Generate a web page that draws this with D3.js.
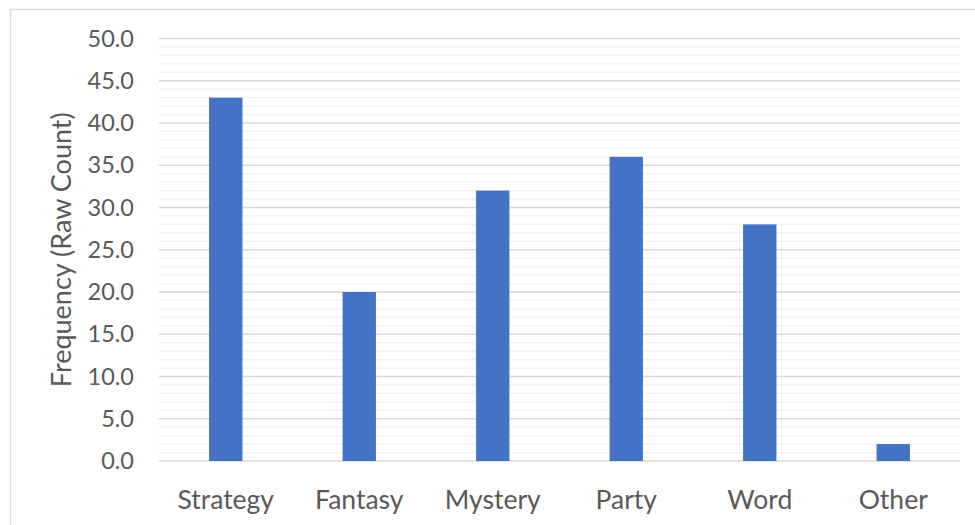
<!DOCTYPE html>
<html><head><meta charset="utf-8">
<script src="https://cdn.jsdelivr.net/npm/d3@7"></script>
<style>body{margin:0;background:#fff}svg{display:block}</style>
</head><body>
<svg id="c" width="975" height="525"></svg>
<script>
const categories = ["Strategy","Fantasy","Mystery","Party","Word","Other"];
const values = [43, 20, 32, 36, 28, 2];
const majorTicks = [0,5,10,15,20,25,30,35,40,45,50];
const yLabel = "Frequency (Raw Count)";

const svg = d3.select("#c");
const font = "Lato, 'Open Sans', sans-serif";
const m = {left:159, right:960, top:38.5, bottom:461};

// outer border
svg.append("path").attr("d","M10.5,525 V9.5 H975").attr("fill","none").attr("stroke","#d9d9d9").attr("stroke-width",1.5);

const x = d3.scaleBand().domain(categories).range([m.left,m.right]).paddingInner(0.75).paddingOuter(0.375);
const y = d3.scaleLinear().domain([0,50]).range([m.bottom,m.top]);

// minor grid
svg.append("g").selectAll("line").data(d3.range(0,51,1).filter(v=>v%5!==0)).join("line")
  .attr("x1",m.left).attr("x2",m.right).attr("y1",d=>y(d)).attr("y2",d=>y(d))
  .attr("stroke","#f2f2f2").attr("stroke-width",1.3);
// major grid
svg.append("g").selectAll("line").data(majorTicks).join("line")
  .attr("x1",m.left).attr("x2",m.right).attr("y1",d=>y(d)).attr("y2",d=>y(d))
  .attr("stroke","#d9d9d9").attr("stroke-width",1.3);

// bars
svg.append("g").selectAll("rect").data(values).join("rect")
  .attr("x",(d,i)=>x(categories[i])).attr("width",x.bandwidth())
  .attr("y",d=>y(d)).attr("height",d=>y(0)-y(d)).attr("fill","#4472c4");

// y axis
const ya = svg.append("g").attr("transform",`translate(${m.left},0)`)
  .call(d3.axisLeft(y).tickValues(majorTicks).tickFormat(d3.format(".1f")).tickSize(0).tickPadding(25));
ya.select(".domain").remove();
ya.selectAll("text").attr("font-family",font).attr("font-size",23.5).attr("fill","#595959");

// x axis
const xa = svg.append("g").attr("transform",`translate(0,${m.bottom})`)
  .call(d3.axisBottom(x).tickSize(0).tickPadding(29.5));
xa.select(".domain").remove();
xa.selectAll("text").attr("font-family",font).attr("font-size",26.5).attr("fill","#595959");

svg.append("text").attr("transform",`translate(71,${(m.top+m.bottom)/2}) rotate(-90)`)
  .attr("text-anchor","middle").attr("font-family",font).attr("font-size",27).attr("fill","#595959")
  .text(yLabel);
</script>
</body></html>
